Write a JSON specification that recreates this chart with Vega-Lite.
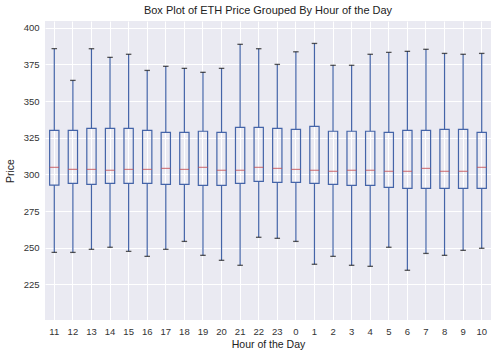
{
  "$schema": "https://vega.github.io/schema/vega-lite/v6.json",
  "width": 446,
  "height": 299,
  "autosize": {"type": "none"},
  "padding": {"left": 45, "top": 21, "right": 7, "bottom": 37},
  "background": "white",
  "title": {"text": "Box Plot of ETH Price Grouped By Hour of the Day", "font": "Liberation Sans", "fontSize": 11, "fontWeight": "normal", "color": "#222222", "offset": 5},
  "config": {
    "view": {"fill": "#eaeaf2", "stroke": null},
    "axis": {"gridColor": "white", "gridWidth": 1, "domain": false, "ticks": false, "labelFont": "Liberation Sans", "labelFontSize": 9.5, "labelColor": "#333333", "titleFont": "Liberation Sans", "titleFontSize": 10.5, "titleFontWeight": "normal", "titleColor": "#222222"}
  },
  "data": {"values": [
    {"hour": "11", "lower": 246.8, "q1": 292.7, "median": 304.8, "q3": 330.0, "upper": 385.7},
    {"hour": "12", "lower": 246.8, "q1": 293.9, "median": 303.4, "q3": 330.0, "upper": 364.1},
    {"hour": "13", "lower": 248.9, "q1": 293.2, "median": 303.4, "q3": 331.4, "upper": 385.7},
    {"hour": "14", "lower": 250.3, "q1": 293.9, "median": 302.8, "q3": 331.4, "upper": 379.8},
    {"hour": "15", "lower": 247.5, "q1": 293.9, "median": 303.4, "q3": 331.4, "upper": 381.9},
    {"hour": "16", "lower": 244.1, "q1": 293.9, "median": 303.4, "q3": 330.0, "upper": 370.9},
    {"hour": "17", "lower": 248.9, "q1": 293.2, "median": 304.1, "q3": 328.7, "upper": 373.7},
    {"hour": "18", "lower": 254.3, "q1": 293.2, "median": 303.4, "q3": 328.7, "upper": 372.3},
    {"hour": "19", "lower": 244.8, "q1": 292.5, "median": 304.8, "q3": 329.4, "upper": 369.6},
    {"hour": "20", "lower": 241.4, "q1": 292.5, "median": 302.8, "q3": 328.7, "upper": 372.3},
    {"hour": "21", "lower": 238.0, "q1": 293.9, "median": 302.8, "q3": 332.1, "upper": 388.7},
    {"hour": "22", "lower": 257.1, "q1": 295.3, "median": 304.8, "q3": 332.1, "upper": 385.7},
    {"hour": "23", "lower": 256.4, "q1": 294.6, "median": 304.1, "q3": 331.4, "upper": 375.0},
    {"hour": "0", "lower": 254.3, "q1": 294.6, "median": 303.4, "q3": 330.7, "upper": 383.6},
    {"hour": "1", "lower": 238.7, "q1": 293.9, "median": 302.8, "q3": 332.8, "upper": 389.3},
    {"hour": "2", "lower": 244.1, "q1": 293.2, "median": 302.1, "q3": 329.4, "upper": 374.4},
    {"hour": "3", "lower": 238.0, "q1": 292.5, "median": 302.8, "q3": 329.4, "upper": 374.4},
    {"hour": "4", "lower": 237.3, "q1": 292.5, "median": 302.8, "q3": 329.4, "upper": 381.9},
    {"hour": "5", "lower": 250.3, "q1": 291.2, "median": 302.1, "q3": 328.7, "upper": 383.2},
    {"hour": "6", "lower": 234.6, "q1": 290.5, "median": 302.1, "q3": 330.0, "upper": 383.9},
    {"hour": "7", "lower": 246.1, "q1": 290.5, "median": 304.1, "q3": 330.0, "upper": 385.3},
    {"hour": "8", "lower": 244.8, "q1": 290.5, "median": 302.1, "q3": 330.7, "upper": 382.5},
    {"hour": "9", "lower": 248.2, "q1": 290.5, "median": 302.1, "q3": 330.7, "upper": 381.9},
    {"hour": "10", "lower": 249.6, "q1": 290.5, "median": 304.8, "q3": 328.7, "upper": 382.5}
  ]},
  "encoding": {
    "x": {"field": "hour", "type": "ordinal", "sort": null, "scale": {"paddingInner": 0, "paddingOuter": 0}, "axis": {"title": "Hour of the Day", "labelAngle": 0, "grid": true, "bandPosition": 0.5, "labelPadding": 6, "titlePadding": 4}}
  },
  "layer": [
    {"mark": {"type": "rule", "color": "#4464a8", "strokeWidth": 1.2},
     "encoding": {"y": {"field": "lower", "type": "quantitative", "scale": {"domain": [200.7, 404.6], "nice": false, "zero": false}, "axis": {"title": "Price", "values": [225, 250, 275, 300, 325, 350, 375, 400], "labelPadding": 6, "titlePadding": 8}}, "y2": {"field": "q1"}}},
    {"mark": {"type": "rule", "color": "#4464a8", "strokeWidth": 1.2},
     "encoding": {"y": {"field": "q3", "type": "quantitative"}, "y2": {"field": "upper"}}},
    {"mark": {"type": "bar", "width": 9.3, "fill": null, "fillOpacity": 0, "stroke": "#4464a8", "strokeWidth": 1.2},
     "encoding": {"y": {"field": "q1", "type": "quantitative"}, "y2": {"field": "q3"}}},
    {"mark": {"type": "tick", "color": "#c44e52", "thickness": 1.2, "size": 9.3},
     "encoding": {"y": {"field": "median", "type": "quantitative"}}},
    {"mark": {"type": "tick", "color": "#111111", "thickness": 1.3, "size": 5.5},
     "encoding": {"y": {"field": "lower", "type": "quantitative"}}},
    {"mark": {"type": "tick", "color": "#111111", "thickness": 1.3, "size": 5.5},
     "encoding": {"y": {"field": "upper", "type": "quantitative"}}}
  ]
}
